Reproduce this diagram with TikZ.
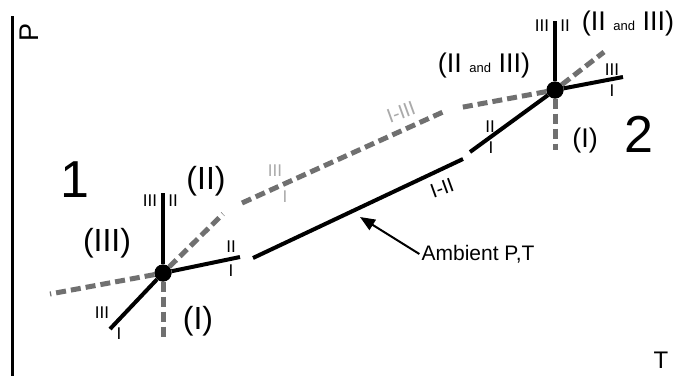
\documentclass[tikz,border=0pt]{standalone}
\usepackage{fontspec}
\setmainfont{Liberation Sans}
\usetikzlibrary{arrows.meta}
\definecolor{dgray}{RGB}{112,112,112}
\definecolor{lgray}{RGB}{170,170,170}
\begin{document}
\begin{tikzpicture}[x=1pt,y=-1pt,
  solidln/.style={line width=4pt, black},
  dashln/.style={line width=5pt, dgray, dash pattern=on 10pt off 5pt},
  dot/.style={circle, fill=black, inner sep=0pt, minimum size=17pt},
  bignum/.style={font=\fontsize{52}{52}\selectfont, inner sep=0pt},
  phase/.style={font=\fontsize{32}{32}\selectfont, inner sep=0pt},
  phaseb/.style={font=\fontsize{27}{27}\selectfont, inner sep=0pt},
  tick/.style={font=\fontsize{17}{17}\selectfont, inner sep=0pt},
  axlab/.style={font=\fontsize{24}{24}\selectfont, inner sep=0pt},
  bnd/.style={font=\fontsize{20}{20}\selectfont, inner sep=0pt, rotate=20}
]
\useasboundingbox (0,0) rectangle (677,376);

% axis
\coordinate (axtop) at (12,16);
\coordinate (axbot) at (12,376);
\draw[line width=3pt] (axtop) -- (axbot);
\node[axlab, rotate=90, font=\fontsize{27}{27}\selectfont] (plab) at (29,32) {P};
\node[axlab] (tlab) at (661,360) {T};

% triple points
\node[dot] (p1) at (163,273) {};
\node[dot] (p2) at (555,90) {};

% endpoints, point 1
\coordinate (a1up) at (163,193);
\coordinate (a1r) at (240,257);
\coordinate (a1dl) at (110,329);
\coordinate (a1l) at (50,294);
\coordinate (a1ur) at (223,214);
\coordinate (a1d) at (163,340);
% endpoints, point 2
\coordinate (a2up) at (555,21);
\coordinate (a2r) at (623,77);
\coordinate (a2dl) at (470,152);
\coordinate (a2ur) at (604,52);
\coordinate (a2d) at (555,150);
\coordinate (a2l) at (458,108);
% middle segments
\coordinate (m1) at (253,258);
\coordinate (m2) at (463,159);
\coordinate (g1) at (242,203);
\coordinate (g2) at (443,112);

% gray dashed boundaries
\draw[dashln] (p1) -- (a1l);
\draw[dashln] (p1) -- (a1ur);
\draw[dashln] (p1) -- (a1d);
\draw[dashln] (g1) -- (g2);
\draw[dashln] (p2) -- (a2l);
\draw[dashln] (p2) -- (a2ur);
\draw[dashln] (p2) -- (a2d);

% black solid boundaries
\draw[solidln] (p1) -- (a1up);
\draw[solidln] (p1) -- (a1r);
\draw[solidln] (p1) -- (a1dl);
\draw[solidln] (m1) -- (m2);
\draw[solidln] (p2) -- (a2up);
\draw[solidln] (p2) -- (a2r);
\draw[solidln] (p2) -- (a2dl);

\node[dot] at (p1) {};
\node[dot] at (p2) {};

% big numbers
\node[bignum] (n1) at (75,180) {1};
\node[bignum] (n2) at (639,134) {2};

% phase labels
\node[phase] (l1a) at (206,181) {(II)};
\node[phase] (l1b) at (107,243) {(III)};
\node[phase] (l1c) at (198,321) {(I)};
\node[phaseb] (l2a) at (484,66) {(II {\fontsize{13}{13}\selectfont and} III)};
\node[phaseb] (l2b) at (628,24) {(II {\fontsize{13}{13}\selectfont and} III)};
\node[phaseb] (l2c) at (585,141) {(I)};

% tick labels, point 1
\node[tick] (t1) at (150,201) {III};
\node[tick] (t2) at (173,201) {II};
\node[tick] (t3) at (231,247) {II};
\node[tick] (t4) at (231,271) {I};
\node[tick] (t5) at (102,313) {III};
\node[tick] (t6) at (119,334) {I};
% tick labels, point 2
\node[tick] (t7) at (542,26) {III};
\node[tick] (t8) at (565,26) {II};
\node[tick] (t9) at (612,70) {III};
\node[tick] (t10) at (612,91) {I};
\node[tick] (t11) at (490,127) {II};
\node[tick] (t12) at (491,148) {I};
% gray tick labels
\node[tick, lgray] (t13) at (275,171) {III};
\node[tick, lgray] (t14) at (285,197) {I};
\node[bnd, lgray] (b1) at (401,112) {I-III};
\node[bnd] (b2) at (442,188) {I-II};

% ambient
\node[font=\fontsize{21}{21}\selectfont, inner sep=2pt] (amb) at (478,254) {Ambient P,T};
\coordinate (arrtip) at (360,217);
\draw[line width=2pt, -{Triangle[length=15pt,width=12pt]}] (amb.west) -- (arrtip);
\end{tikzpicture}
\end{document}
